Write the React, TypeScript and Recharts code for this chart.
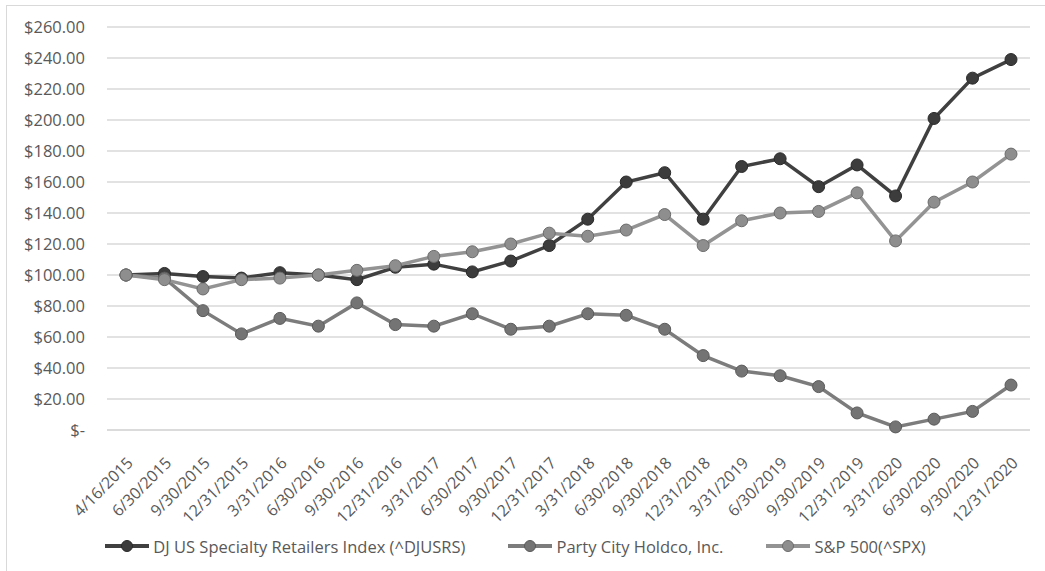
import React from 'react';
import { LineChart, Line, XAxis, YAxis, CartesianGrid, Legend } from 'recharts';

const dates = [
  '4/16/2015', '6/30/2015', '9/30/2015', '12/31/2015', '3/31/2016', '6/30/2016',
  '9/30/2016', '12/31/2016', '3/31/2017', '6/30/2017', '9/30/2017', '12/31/2017',
  '3/31/2018', '6/30/2018', '9/30/2018', '12/31/2018', '3/31/2019', '6/30/2019',
  '9/30/2019', '12/31/2019', '3/31/2020', '6/30/2020', '9/30/2020', '12/31/2020',
];

const djusrs = [100, 101, 99, 98, 101.5, 100, 97, 105, 107, 102, 109, 119, 136, 160, 166, 136, 170, 175, 157, 171, 151, 201, 227, 239];
const partyCity = [100, 98, 77, 62, 72, 67, 82, 68, 67, 75, 65, 67, 75, 74, 65, 48, 38, 35, 28, 11, 2, 7, 12, 29];
const spx = [100, 97, 91, 97, 98, 100, 103, 106, 112, 115, 120, 127, 125, 129, 139, 119, 135, 140, 141, 153, 122, 147, 160, 178];

const yTicks = [0, 20, 40, 60, 80, 100, 120, 140, 160, 180, 200, 220, 240, 260];

const data = dates.map((d, i) => ({
  date: d,
  dj: djusrs[i],
  pc: partyCity[i],
  sp: spx[i],
}));

const FONT = '"Open Sans", sans-serif';
const TEXT = '#595959';

const fmtMoney = (v: number) => (v === 0 ? '$-' : `$${v.toFixed(2)}`);

const DateTick = (props: any) => {
  const { x, y, payload } = props;
  const ax = x + 4;
  const ay = y + 22;
  return (
    <text
      x={ax}
      y={ay}
      dy="0.35em"
      textAnchor="end"
      transform={`rotate(-45, ${ax}, ${ay})`}
      fill={TEXT}
      fontSize={16}
      fontFamily={FONT}
    >
      {payload.value}
    </text>
  );
};

const legendItems = [
  { name: 'DJ US Specialty Retailers Index (^DJUSRS)', line: '#404040', dot: '#3c3c3c', edge: '#2a2a2a' },
  { name: 'Party City Holdco, Inc.', line: '#7c7c7c', dot: '#747474', edge: '#5a5a5a' },
  { name: 'S&P 500(^SPX)', line: '#939393', dot: '#8e8e8e', edge: '#6c6c6c' },
];

const ChartLegend = () => (
  <div
    style={{
      display: 'flex',
      justifyContent: 'center',
      alignItems: 'center',
      gap: 42,
      height: 28,
      paddingTop: 4,
      boxSizing: 'border-box',
      fontFamily: FONT,
      fontSize: 16.5,
      color: TEXT,
    }}
  >
    {legendItems.map((it) => (
      <div key={it.name} style={{ display: 'flex', alignItems: 'center' }}>
        <svg width={46} height={14} style={{ marginRight: 3 }}>
          <line x1={1} y1={7} x2={45} y2={7} stroke={it.line} strokeWidth={4} />
          <circle cx={23} cy={7} r={5.5} fill={it.dot} stroke={it.edge} strokeWidth={1} />
        </svg>
        <span>{it.name}</span>
      </div>
    ))}
  </div>
);

export default function App() {
  return (
    <div
      style={{
        position: 'fixed',
        left: 0,
        top: 0,
        width: 1045,
        height: 571,
        overflow: 'hidden',
        background: '#fff',
      }}
    >
      <div
        style={{
          position: 'absolute',
          left: 6,
          top: 5,
          width: 1100,
          height: 600,
          border: '1px solid #d9d9d9',
        }}
      />
      <LineChart
        width={1045}
        height={571}
        data={data}
        margin={{ top: 27, right: 15, left: 0, bottom: 13 }}
      >
        <CartesianGrid horizontal vertical={false} stroke="#d9d9d9" strokeWidth={1.5} />
        <XAxis
          dataKey="date"
          interval={0}
          height={100}
          padding={{ left: 19, right: 19 }}
          tickLine={false}
          axisLine={{ stroke: '#d9d9d9', strokeWidth: 1.5 }}
          tick={<DateTick />}
        />
        <YAxis
          width={107}
          domain={[0, 260]}
          ticks={yTicks}
          interval={0}
          tickFormatter={fmtMoney}
          axisLine={false}
          tickLine={false}
          tick={{ fill: TEXT, fontSize: 16.5, fontFamily: FONT }}
          tickMargin={16}
        />
        <Legend verticalAlign="bottom" height={28} content={<ChartLegend />} />
        <Line
          dataKey="dj"
          name="DJ US Specialty Retailers Index (^DJUSRS)"
          stroke="#404040"
          strokeWidth={3.5}
          dot={{ r: 6, fill: '#3c3c3c', stroke: '#2a2a2a', strokeWidth: 1 }}
          isAnimationActive={false}
        />
        <Line
          dataKey="pc"
          name="Party City Holdco, Inc."
          stroke="#7c7c7c"
          strokeWidth={3.5}
          dot={{ r: 6, fill: '#747474', stroke: '#5a5a5a', strokeWidth: 1 }}
          isAnimationActive={false}
        />
        <Line
          dataKey="sp"
          name="S&P 500(^SPX)"
          stroke="#939393"
          strokeWidth={3.5}
          dot={{ r: 6, fill: '#8e8e8e', stroke: '#6c6c6c', strokeWidth: 1 }}
          isAnimationActive={false}
        />
      </LineChart>
    </div>
  );
}
